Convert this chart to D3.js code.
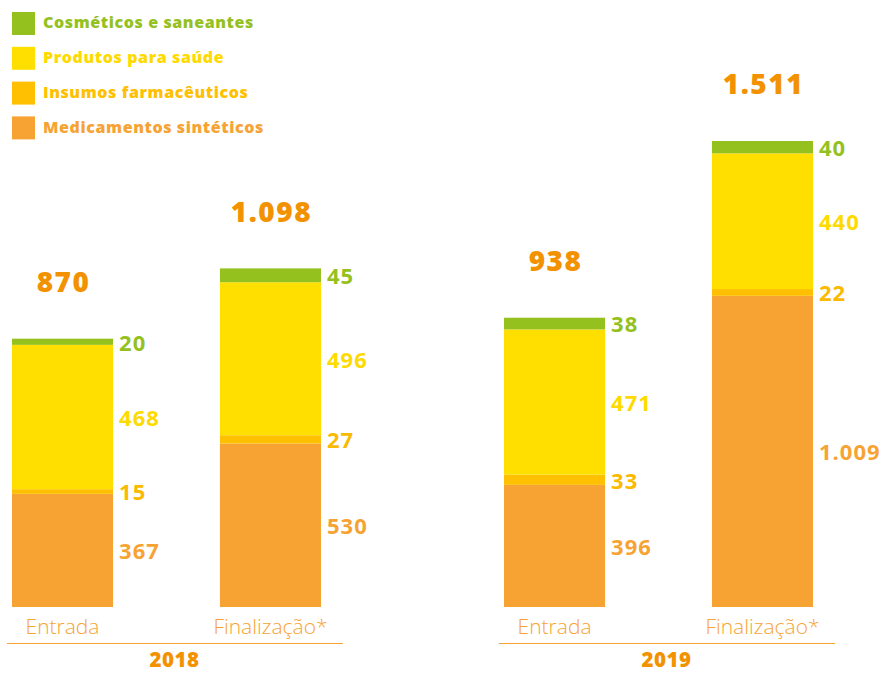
<!DOCTYPE html>
<html>
<head>
<meta charset="utf-8">
<script src="https://cdn.jsdelivr.net/npm/d3@7"></script>
<style>
  body { margin: 0; background: #fff; }
  text { font-family: "Open Sans", Lato, sans-serif; }
</style>
</head>
<body>
<div id="chart"></div>
<script>
// Data
const years = ["2018", "2019"];
const stages = ["Entrada", "Finalização*"];
const series = ["Medicamentos sintéticos", "Insumos farmacêuticos", "Produtos para saúde", "Cosméticos e saneantes"];
const medicamentos = [367, 530, 396, 1009];
const insumos = [15, 27, 33, 22];
const produtos = [468, 496, 471, 440];
const cosmeticos = [20, 45, 38, 40];
const totals = [870, 1098, 938, 1511];

const barColors = ["#F7A334", "#FEC000", "#FFDF00", "#95C11F"];
const labelColors = ["#F7A334", "#FBBA00", "#FFDA00", "#95C11F"];
const legendColors = { "Cosméticos e saneantes": "#95C11F", "Produtos para saúde": "#FFDF00", "Insumos farmacêuticos": "#FEC000", "Medicamentos sintéticos": "#F7A334" };
const dark = "#F39200";

const width = 883, height = 673;
const fmt = d3.formatLocale({ decimal: ",", thousands: ".", grouping: [3], currency: ["R$", ""] }).format(",d");

const svg = d3.select("#chart").append("svg")
    .attr("width", width)
    .attr("height", height);

// Rows: one per bar
const rows = [];
years.forEach((y, yi) => stages.forEach((s, si) => {
    const i = yi * 2 + si;
    rows.push({
        year: y, stage: s, total: totals[i],
        "Medicamentos sintéticos": medicamentos[i],
        "Insumos farmacêuticos": insumos[i],
        "Produtos para saúde": produtos[i],
        "Cosméticos e saneantes": cosmeticos[i]
    });
}));

const x0 = d3.scaleBand().domain(years).range([12, 813]).paddingInner(0.372);
const x1 = d3.scaleBand().domain(stages).range([0, x0.bandwidth()]).paddingInner(0.514);
const y = d3.scaleLinear().domain([0, 1511]).range([607, 141]);

const stack = d3.stack().keys(series)(rows);

const groups = svg.selectAll(".layer")
    .data(stack)
    .enter().append("g")
    .attr("class", "layer")
    .attr("fill", (d, i) => barColors[i]);

groups.selectAll("rect")
    .data(d => d)
    .enter().append("rect")
    .attr("x", d => x0(d.data.year) + x1(d.data.stage))
    .attr("y", d => y(d[1]))
    .attr("width", x1.bandwidth())
    .attr("height", d => y(d[0]) - y(d[1]));

// segment value labels
stack.forEach((layer, li) => {
    svg.append("g").selectAll("text")
        .data(layer)
        .enter().append("text")
        .attr("x", d => x0(d.data.year) + x1(d.data.stage) + x1.bandwidth() + 6)
        .attr("y", d => (y(d[0]) + y(d[1])) / 2 + 3)
        .attr("dominant-baseline", "middle")
        .attr("fill", labelColors[li])
        .style("font-size", "22px")
        .style("font-weight", 700)
        .style("letter-spacing", "1px")
        .text(d => fmt(d[1] - d[0]));
});

// totals
svg.append("g").selectAll("text")
    .data(rows)
    .enter().append("text")
    .attr("x", d => x0(d.year) + x1(d.stage) + x1.bandwidth() / 2 + 1)
    .attr("y", d => y(d.total) - 54)
    .attr("text-anchor", "middle")
    .attr("dominant-baseline", "middle")
    .attr("fill", dark)
    .style("font-size", "28px")
    .style("font-weight", 800)
    .style("letter-spacing", "1.5px")
    .text(d => fmt(d.total));

// category axis per year
years.forEach(yr => {
    const g = svg.append("g").attr("transform", `translate(${x0(yr)},0)`);
    const axis = d3.axisBottom(x1).tickSize(0).tickPadding(0);
    const ax = g.append("g").attr("transform", "translate(0,619)").call(axis);
    ax.select(".domain").remove();
    ax.selectAll("text")
        .attr("dy", "0.71em")
        .attr("fill", "#F7A334")
        .style("font-size", "21px")
        .style("font-weight", 300)
        .style("font-family", "'Open Sans', sans-serif");
    g.append("line")
        .attr("x1", -5).attr("x2", x0.bandwidth() + 22)
        .attr("y1", 643.5).attr("y2", 643.5)
        .attr("stroke", "#F7A334")
        .attr("stroke-width", 1);
    g.append("text")
        .attr("x", x0.bandwidth() / 2 + 8)
        .attr("y", 667)
        .attr("text-anchor", "middle")
        .attr("fill", dark)
        .style("font-size", "20.5px")
        .style("font-weight", 800)
        .style("letter-spacing", "0.5px")
        .text(yr);
});

// legend
const legendItems = series.slice().reverse();
const legend = svg.append("g").attr("transform", "translate(12,12)");
const li = legend.selectAll("g")
    .data(legendItems)
    .enter().append("g")
    .attr("transform", (d, i) => `translate(0, ${i * 34.8})`);
li.append("rect")
    .attr("width", 23).attr("height", 23)
    .attr("fill", d => legendColors[d]);
li.append("text")
    .attr("x", 31).attr("y", 12)
    .attr("dominant-baseline", "middle")
    .attr("fill", d => legendColors[d] === "#FFDF00" ? "#FFDA00" : legendColors[d])
    .style("font-size", "16px")
    .style("font-weight", 800)
    .style("letter-spacing", "0.6px")
    .text(d => d);
</script>
</body>
</html>
